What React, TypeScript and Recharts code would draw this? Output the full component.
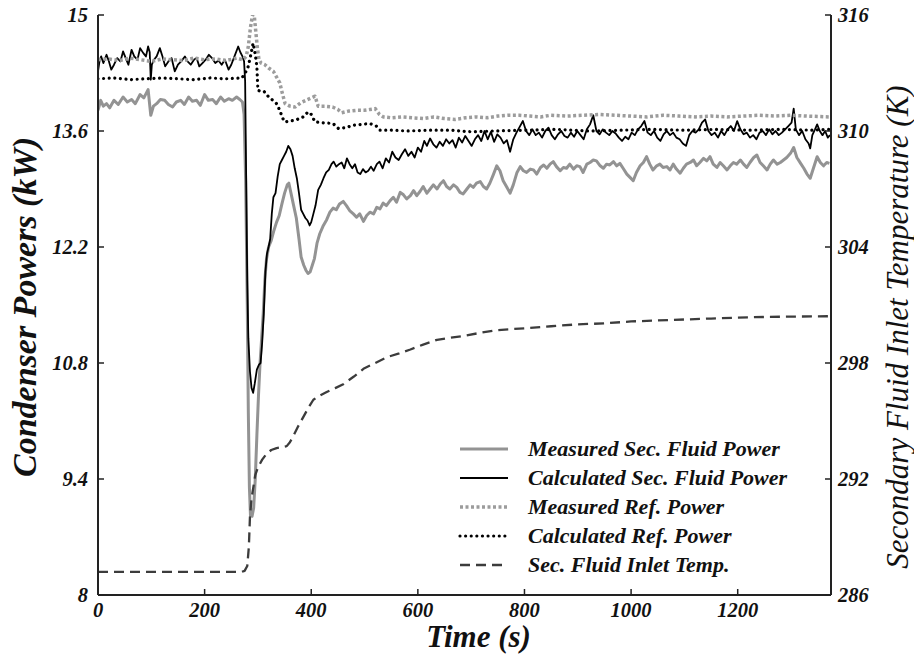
import React from "react";
import { LineChart, Line, XAxis, YAxis, Legend, Label } from "recharts";

// ---- data: [time (s), value] ----
const measuredSecFluidPower: [number, number][] = [
  [0,13.85],[5,13.97],[10,13.9],[16,13.93],[22,13.88],[30,13.97],[38,13.92],[47,14.01],[55,13.95],[63,13.98],[70,13.93],[79,14.04],[86,14.0],[94,14.1],[99,13.79],[104,13.9],[110,13.93],[117,13.98],[125,13.97],[132,13.92],[140,13.89],[147,13.95],[155,13.97],[162,13.92],[170,14.01],[177,13.96],[185,13.97],[192,13.91],[200,14.04],[207,13.97],[215,13.98],[222,13.93],[230,14.01],[237,13.96],[245,13.99],[252,13.97],[260,14.01],[266,13.98],[271,13.95],[274,13.8],[277,13.0],[280,11.5],[282,10.2],[284,9.3],[286,8.96],[289,8.95],[292,9.05],[295,9.4],[298,9.92],[301,10.4],[304,10.8],[307,11.1],[310,11.4],[313,11.8],[316,12.05],[320,12.2],[325,12.28],[330,12.4],[335,12.5],[340,12.58],[345,12.72],[350,12.85],[355,12.95],[358,12.97],[362,12.85],[367,12.7],[372,12.55],[377,12.3],[381,12.08],[386,11.98],[390,11.92],[394,11.88],[398,11.9],[402,11.98],[406,12.06],[411,12.25],[416,12.36],[422,12.45],[429,12.53],[435,12.62],[441,12.67],[447,12.65],[453,12.72],[460,12.75],[466,12.7],[472,12.64],[479,12.6],[485,12.56],[491,12.6],[498,12.51],[504,12.58],[510,12.62],[517,12.6],[523,12.68],[529,12.66],[535,12.73],[541,12.7],[548,12.76],[554,12.8],[560,12.74],[567,12.86],[573,12.83],[579,12.78],[586,12.82],[592,12.88],[598,12.82],[604,12.87],[610,12.93],[617,12.85],[623,12.9],[629,12.95],[636,12.9],[642,12.96],[648,13.0],[654,12.93],[660,12.9],[667,12.95],[673,12.92],[679,12.86],[685,12.84],[692,12.9],[698,12.95],[704,12.92],[710,12.97],[717,12.99],[723,12.93],[729,12.9],[735,12.97],[742,13.08],[748,13.18],[754,13.12],[760,13.0],[767,12.92],[773,12.85],[779,12.95],[786,13.1],[792,13.17],[798,13.12],[804,13.1],[811,13.14],[817,13.13],[823,13.08],[830,13.16],[836,13.19],[842,13.15],[848,13.2],[854,13.23],[860,13.17],[867,13.12],[873,13.16],[879,13.15],[885,13.2],[892,13.14],[898,13.18],[904,13.17],[910,13.1],[917,13.2],[923,13.22],[929,13.25],[935,13.24],[942,13.18],[948,13.15],[954,13.2],[960,13.19],[967,13.23],[973,13.18],[979,13.21],[985,13.15],[992,13.08],[998,13.04],[1004,13.0],[1010,13.1],[1017,13.18],[1023,13.22],[1029,13.29],[1035,13.2],[1041,13.13],[1048,13.18],[1054,13.2],[1060,13.16],[1067,13.17],[1073,13.13],[1079,13.2],[1085,13.14],[1092,13.09],[1098,13.15],[1104,13.2],[1111,13.22],[1117,13.25],[1123,13.18],[1129,13.22],[1136,13.27],[1142,13.24],[1148,13.29],[1154,13.2],[1161,13.16],[1167,13.22],[1173,13.18],[1180,13.13],[1186,13.18],[1192,13.22],[1198,13.2],[1205,13.25],[1211,13.2],[1217,13.16],[1223,13.22],[1230,13.28],[1236,13.31],[1242,13.22],[1248,13.18],[1255,13.13],[1261,13.2],[1267,13.25],[1274,13.2],[1280,13.22],[1286,13.25],[1292,13.28],[1299,13.33],[1305,13.4],[1311,13.28],[1318,13.21],[1324,13.15],[1330,13.08],[1336,13.03],[1342,13.15],[1349,13.29],[1355,13.22],[1361,13.18],[1367,13.22],[1372,13.21]
];

const calculatedSecFluidPower: [number, number][] = [
  [0,14.32],[3,14.45],[6,14.5],[10,14.42],[16,14.52],[20,14.45],[25,14.34],[30,14.4],[36,14.48],[42,14.44],[47,14.56],[52,14.48],[57,14.4],[63,14.58],[68,14.5],[74,14.46],[79,14.6],[85,14.54],[90,14.5],[94,14.62],[97,14.55],[99,14.22],[101,14.4],[105,14.46],[110,14.5],[116,14.6],[121,14.5],[126,14.38],[132,14.44],[138,14.48],[144,14.32],[150,14.4],[156,14.44],[163,14.5],[168,14.44],[174,14.4],[180,14.46],[185,14.48],[190,14.38],[196,14.42],[202,14.46],[208,14.52],[214,14.48],[220,14.42],[226,14.45],[232,14.4],[238,14.46],[245,14.34],[250,14.4],[256,14.5],[263,14.62],[267,14.55],[271,14.5],[274,14.44],[276,14.2],[278,13.0],[280,11.8],[282,11.1],[285,10.7],[288,10.5],[291,10.44],[294,10.55],[298,10.72],[302,10.78],[305,10.8],[308,11.05],[311,11.4],[314,11.9],[317,12.12],[320,12.2],[323,12.3],[326,12.6],[329,12.8],[333,12.85],[337,13.05],[341,13.2],[345,13.25],[349,13.3],[353,13.35],[357,13.42],[361,13.38],[365,13.3],[369,13.15],[373,13.03],[377,12.85],[381,12.65],[385,12.6],[389,12.55],[393,12.52],[397,12.46],[400,12.5],[404,12.6],[408,12.7],[413,12.89],[418,12.95],[423,13.03],[428,13.1],[433,13.13],[438,13.2],[442,13.23],[447,13.17],[452,13.2],[457,13.22],[462,13.15],[467,13.27],[472,13.2],[477,13.15],[482,13.2],[487,13.1],[492,13.08],[497,13.14],[502,13.1],[507,13.12],[512,13.17],[517,13.12],[523,13.2],[528,13.23],[534,13.15],[540,13.27],[546,13.22],[552,13.35],[558,13.28],[564,13.25],[570,13.32],[576,13.38],[582,13.3],[588,13.35],[594,13.28],[600,13.4],[606,13.35],[612,13.48],[617,13.42],[623,13.51],[629,13.44],[635,13.4],[641,13.47],[647,13.42],[653,13.5],[659,13.45],[665,13.49],[671,13.4],[677,13.52],[683,13.46],[689,13.54],[695,13.48],[701,13.42],[707,13.5],[713,13.55],[719,13.48],[725,13.6],[731,13.5],[737,13.59],[743,13.47],[749,13.56],[755,13.52],[761,13.45],[767,13.49],[773,13.35],[779,13.5],[785,13.58],[791,13.65],[797,13.72],[803,13.6],[809,13.55],[815,13.62],[821,13.55],[827,13.58],[833,13.52],[839,13.6],[845,13.64],[851,13.55],[857,13.5],[863,13.56],[869,13.6],[875,13.54],[881,13.52],[887,13.58],[893,13.53],[899,13.6],[905,13.55],[911,13.5],[917,13.62],[923,13.68],[929,13.79],[935,13.6],[941,13.56],[947,13.62],[953,13.58],[959,13.55],[965,13.6],[971,13.57],[977,13.52],[983,13.48],[989,13.53],[995,13.5],[1001,13.58],[1007,13.55],[1013,13.62],[1019,13.66],[1025,13.72],[1031,13.58],[1037,13.55],[1043,13.6],[1049,13.52],[1055,13.48],[1061,13.56],[1067,13.6],[1073,13.55],[1079,13.58],[1085,13.52],[1091,13.5],[1097,13.45],[1103,13.42],[1109,13.55],[1115,13.6],[1121,13.58],[1127,13.62],[1133,13.7],[1139,13.74],[1145,13.6],[1151,13.55],[1157,13.58],[1163,13.52],[1169,13.6],[1175,13.55],[1181,13.62],[1187,13.66],[1193,13.6],[1199,13.72],[1205,13.62],[1211,13.56],[1217,13.58],[1223,13.52],[1229,13.55],[1235,13.5],[1241,13.58],[1247,13.6],[1253,13.55],[1259,13.62],[1265,13.56],[1271,13.6],[1277,13.55],[1283,13.58],[1289,13.62],[1295,13.66],[1301,13.7],[1305,13.87],[1309,13.62],[1315,13.55],[1321,13.6],[1327,13.5],[1333,13.45],[1336,13.39],[1340,13.55],[1345,13.62],[1349,13.68],[1354,13.6],[1359,13.55],[1364,13.6],[1369,13.52],[1373,13.55]
];

const measuredRefPower: [number, number][] = [
  [0,14.46],[20,14.47],[40,14.45],[60,14.48],[80,14.46],[100,14.44],[120,14.47],[140,14.46],[160,14.45],[180,14.48],[200,14.46],[220,14.47],[240,14.45],[260,14.48],[272,14.46],[278,14.5],[282,14.62],[286,14.85],[290,15.0],[293,15.0],[296,14.8],[299,14.6],[302,14.46],[306,14.42],[313,14.4],[320,14.36],[329,14.32],[335,14.25],[341,14.18],[346,14.05],[351,13.93],[360,13.9],[370,13.89],[380,13.94],[390,13.97],[400,14.0],[407,14.02],[413,13.9],[425,13.9],[440,13.89],[450,13.86],[457,13.82],[470,13.84],[485,13.85],[500,13.85],[510,13.86],[520,13.87],[528,13.8],[535,13.77],[550,13.76],[570,13.77],[590,13.76],[610,13.75],[630,13.77],[650,13.75],[670,13.74],[690,13.76],[710,13.77],[730,13.76],[750,13.78],[770,13.79],[790,13.79],[810,13.78],[830,13.77],[850,13.79],[880,13.78],[910,13.79],[940,13.8],[970,13.79],[1000,13.78],[1030,13.77],[1060,13.79],[1090,13.78],[1120,13.77],[1150,13.78],[1180,13.77],[1210,13.78],[1240,13.79],[1270,13.78],[1300,13.79],[1330,13.78],[1372,13.77]
];

const calculatedRefPower: [number, number][] = [
  [0,14.23],[30,14.24],[60,14.22],[90,14.23],[120,14.24],[150,14.23],[180,14.22],[210,14.24],[240,14.23],[270,14.24],[276,14.3],[281,14.36],[286,14.5],[291,14.66],[295,14.52],[298,14.38],[300,14.09],[305,14.08],[311,14.08],[316,14.05],[320,14.01],[328,13.97],[335,13.93],[341,13.85],[346,13.76],[350,13.71],[360,13.72],[370,13.73],[385,13.77],[394,13.83],[400,13.8],[407,13.71],[420,13.7],[441,13.69],[451,13.63],[465,13.64],[479,13.67],[495,13.68],[510,13.69],[522,13.66],[529,13.61],[550,13.61],[580,13.6],[620,13.61],[660,13.61],[700,13.59],[740,13.6],[800,13.61],[860,13.62],[920,13.6],[980,13.61],[1040,13.62],[1100,13.61],[1160,13.62],[1220,13.61],[1280,13.62],[1340,13.61],[1372,13.62]
];

const secFluidInletTemp: [number, number][] = [
  [0,287.2],[100,287.2],[200,287.2],[270,287.2],[275,287.25],[280,287.5],[283,288.5],[285,290.0],[288,291.0],[291,291.5],[295,292.2],[300,292.6],[308,293.0],[316,293.3],[325,293.5],[335,293.6],[345,293.65],[354,293.7],[360,293.9],[366,294.2],[375,294.7],[385,295.2],[395,295.7],[404,296.1],[415,296.3],[429,296.5],[445,296.7],[460,296.9],[480,297.3],[498,297.7],[520,298.0],[542,298.3],[565,298.5],[586,298.7],[610,298.95],[636,299.2],[660,299.3],[685,299.4],[715,299.55],[748,299.7],[775,299.75],[804,299.8],[850,299.9],[900,300.0],[950,300.05],[1000,300.15],[1050,300.2],[1100,300.25],[1150,300.3],[1200,300.35],[1250,300.38],[1300,300.4],[1372,300.42]
];

const timeTicks = [0, 200, 400, 600, 800, 1000, 1200];
const powerTicks = [8, 9.4, 10.8, 12.2, 13.6, 15];
const tempTicks = [286, 292, 298, 304, 310, 316];

const seriesNames = [
  "Measured Sec. Fluid Power",
  "Calculated Sec. Fluid Power",
  "Measured Ref. Power",
  "Calculated Ref. Power",
  "Sec. Fluid Inlet Temp.",
];

const toRows = (arr: [number, number][]) => arr.map(([t, v]) => ({ t, v }));

const FONT = "'Liberation Serif', 'Times New Roman', serif";
const tickStyle = { fontFamily: FONT, fontSize: 20.5, fontStyle: "italic", fontWeight: 700, fill: "#111" };

const styles = [
  { stroke: "#939393", strokeWidth: 3, strokeDasharray: undefined as string | undefined, strokeLinecap: "butt" },
  { stroke: "#000", strokeWidth: 1.8, strokeDasharray: undefined as string | undefined, strokeLinecap: "butt" },
  { stroke: "#9c9c9c", strokeWidth: 3.5, strokeDasharray: "3 2.5", strokeLinecap: "butt" },
  { stroke: "#000", strokeWidth: 3.2, strokeDasharray: "0.01 5.6", strokeLinecap: "round" },
  { stroke: "#3c3c3c", strokeWidth: 2.3, strokeDasharray: "10 6", strokeLinecap: "butt" },
];

const LegendBox = () => (
  <div style={{ fontFamily: FONT, fontStyle: "italic", fontWeight: 700, fontSize: 22, color: "#111" }}>
    {seriesNames.map((name, i) => (
      <div key={name} style={{ display: "flex", alignItems: "center", height: 29 }}>
        <svg width={60} height={10} style={{ marginRight: 10 }}>
          <line x1={2} y1={5} x2={50} y2={5}
            stroke={styles[i].stroke}
            strokeWidth={styles[i].strokeWidth}
            strokeDasharray={styles[i].strokeDasharray}
            strokeLinecap={styles[i].strokeLinecap as any} />
        </svg>
        <span style={{ whiteSpace: "nowrap", lineHeight: "29px" }}>{name}</span>
      </div>
    ))}
  </div>
);

export default function App() {
  const data = [measuredSecFluidPower, calculatedSecFluidPower, measuredRefPower, calculatedRefPower, secFluidInletTemp].map(toRows);
  return (
    <div style={{ position: "absolute", left: 0, top: 0 }}>
      <LineChart width={914} height={655} margin={{ top: 15, right: 0, bottom: 0, left: 0 }}>
        <XAxis xAxisId="b" dataKey="t" type="number" domain={[0, 1375]} ticks={timeTicks}
          allowDataOverflow height={60} stroke="#222" strokeWidth={2}
          tickSize={-6} tickMargin={13} tick={tickStyle} tickLine={{ stroke: "#222", strokeWidth: 1.5 }}>
          <Label content={({ viewBox }: any) => (
            <text x={viewBox.x + viewBox.width / 2 + 14} y={viewBox.y + 52} textAnchor="middle"
              style={{ fontFamily: FONT, fontSize: 31, fontStyle: "italic", fontWeight: 700 }} fill="#111">Time (s)</text>
          )} />
        </XAxis>
        <XAxis xAxisId="top" dataKey="t" type="number" orientation="top" domain={[0, 1375]} ticks={timeTicks}
          allowDataOverflow height={0} stroke="#222" strokeWidth={2}
          tickSize={-6} tick={false} tickLine={{ stroke: "#222", strokeWidth: 1.5 }} />
        <YAxis yAxisId="p" type="number" domain={[8, 15]} ticks={powerTicks} allowDataOverflow
          width={98} stroke="#222" strokeWidth={2} tickSize={-6} tickMargin={16}
          tick={tickStyle} tickLine={{ stroke: "#222", strokeWidth: 1.5 }}
          tickFormatter={(v: number) => String(v)}>
          <Label content={({ viewBox }: any) => {
            const cx = viewBox.x + 24;
            const cy = viewBox.y + viewBox.height / 2 + 2;
            return (
              <text x={cx} y={cy} textAnchor="middle" dominantBaseline="central" transform={`rotate(-90 ${cx} ${cy})`}
                style={{ fontFamily: FONT, fontSize: 34, fontStyle: "italic", fontWeight: 700 }} fill="#111">
                Condenser Powers (kW)
              </text>
            );
          }} />
        </YAxis>
        <YAxis yAxisId="T" orientation="right" type="number" domain={[286, 316]} ticks={tempTicks} allowDataOverflow
          width={83} stroke="#222" strokeWidth={2} tickSize={-6} tickMargin={13}
          tick={tickStyle} tickLine={{ stroke: "#222", strokeWidth: 1.5 }}>
          <Label content={({ viewBox }: any) => {
            const cx = viewBox.x + 66;
            const cy = viewBox.y + viewBox.height / 2 + 22;
            return (
              <text x={cx} y={cy} textAnchor="middle" dominantBaseline="central" transform={`rotate(-90 ${cx} ${cy})`}
                style={{ fontFamily: FONT, fontSize: 31, fontStyle: "italic", fontWeight: 400 }} fill="#111">
                Secondary Fluid Inlet Temperature (K)
              </text>
            );
          }} />
        </YAxis>
        <Legend layout="vertical" align="center" verticalAlign="middle"
          wrapperStyle={{ position: "absolute", left: 458, top: 434, width: 380 }}
          content={() => <LegendBox />} />
        {data.map((rows, i) => (
          <Line key={seriesNames[i]} name={seriesNames[i]} data={rows} dataKey="v" xAxisId="b"
            yAxisId={i === 4 ? "T" : "p"} type="linear" dot={false} activeDot={false}
            isAnimationActive={false} stroke={styles[i].stroke} strokeWidth={styles[i].strokeWidth}
            strokeDasharray={styles[i].strokeDasharray} strokeLinecap={styles[i].strokeLinecap as any}
            strokeLinejoin="round" />
        ))}
      </LineChart>
    </div>
  );
}
